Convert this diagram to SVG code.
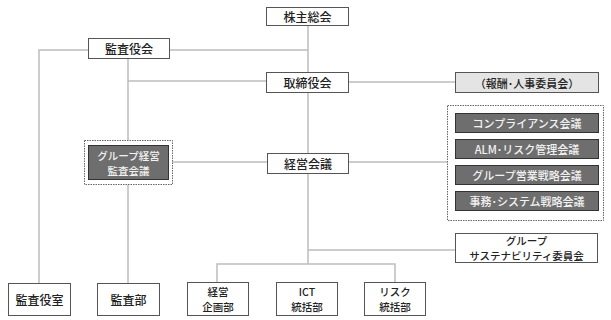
<svg xmlns="http://www.w3.org/2000/svg" width="611" height="320" viewBox="0 0 611 320">
<style>
.bx{fill:#fff;stroke:#555;stroke-width:1}
.lg{fill:#e4e4e4;stroke:#555;stroke-width:1}
.dk{fill:#6e6e6e;stroke:#333;stroke-width:1}
.dot{fill:#fff;stroke:#666;stroke-width:1;stroke-dasharray:1.5 1}
.t{font-family:"Noto Sans CJK JP","Noto Sans",sans-serif;font-size:12px;font-weight:500;fill:#222;text-anchor:middle;dominant-baseline:central}
.s{font-size:11px}
.m{font-size:10.5px}
.w{fill:#f2f2f2}
.ln{fill:none;stroke:#bdbdbd;stroke-width:1.5}
</style>
<rect width="611" height="320" fill="#fff"/>
<g id="connectors">
<path class="ln" d="M308 25V264"/>
<path class="ln" d="M169 50H308"/>
<path class="ln" d="M88 50H39V283"/>
<path class="ln" d="M128 58V140M128 184V283"/>
<path class="ln" d="M128 81H266"/>
<path class="ln" d="M348 82H455"/>
<path class="ln" d="M172 162H267"/>
<path class="ln" d="M348 162H447"/>
<path class="ln" d="M308 250H455"/>
<path class="ln" d="M217 282V264H395V282"/>
</g>
<g id="kabunushi"><rect class="bx" x="266.5" y="7.5" width="82" height="18"/><text class="t" x="307.5" y="16.5">株主総会</text></g>
<g id="kansayakukai"><rect class="bx" x="88.5" y="38.5" width="81" height="20"/><text class="t" x="129" y="48.5">監査役会</text></g>
<g id="torishimariyakukai"><rect class="bx" x="266.5" y="72.5" width="82" height="20"/><text class="t" x="307.5" y="82.5">取締役会</text></g>
<g id="hoshu"><rect class="lg" x="455.5" y="72.5" width="143" height="20"/><text class="t s" x="527" y="82.5">（報酬･人事委員会）</text></g>
<g id="kaigi-group">
<rect class="dot" x="447.5" y="105.5" width="156" height="115"/>
<g id="compliance"><rect class="dk" x="455.5" y="113.5" width="143" height="19"/><text class="t s w" x="527" y="123">コンプライアンス会議</text></g>
<g id="alm"><rect class="dk" x="455.5" y="139.5" width="143" height="19"/><text class="t s w" x="527" y="149">ALM･リスク管理会議</text></g>
<g id="eigyo"><rect class="dk" x="455.5" y="165.5" width="143" height="19"/><text class="t s w" x="527" y="175">グループ営業戦略会議</text></g>
<g id="jimu"><rect class="dk" x="455.5" y="191.5" width="143" height="19"/><text class="t s w" x="527" y="201">事務･システム戦略会議</text></g>
</g>
<g id="group-kansa">
<rect class="dot" x="84.5" y="140.5" width="88" height="44"/>
<rect class="dk" x="88.5" y="145.5" width="80" height="34"/>
<text class="t m w" x="128.5" y="155">グループ経営</text>
<text class="t m w" x="128.5" y="170">監査会議</text>
</g>
<g id="keiei-kaigi"><rect class="bx" x="267.5" y="153.5" width="81" height="20"/><text class="t" x="308" y="163.5">経営会議</text></g>
<g id="sustainability"><rect class="bx" x="455.5" y="233.5" width="142" height="29"/><text class="t m" x="526.5" y="240.5">グループ</text><text class="t m" x="526.5" y="255.5">サステナビリティ委員会</text></g>
<g id="kansayakushitsu"><rect class="bx" x="8.5" y="283.5" width="62" height="32"/><text class="t" x="39.5" y="299.5">監査役室</text></g>
<g id="kansabu"><rect class="bx" x="97.5" y="283.5" width="62" height="32"/><text class="t" x="128.5" y="299.5">監査部</text></g>
<g id="keieikikaku"><rect class="bx" x="187.5" y="282.5" width="61" height="33"/><text class="t m" x="218" y="291.5">経営</text><text class="t m" x="218" y="306.5">企画部</text></g>
<g id="ict"><rect class="bx" x="276.5" y="282.5" width="61" height="33"/><text class="t m" x="307" y="291.5">ICT</text><text class="t m" x="307" y="306.5">統括部</text></g>
<g id="risk"><rect class="bx" x="364.5" y="282.5" width="61" height="33"/><text class="t m" x="395" y="291.5">リスク</text><text class="t m" x="395" y="306.5">統括部</text></g>
</svg>
